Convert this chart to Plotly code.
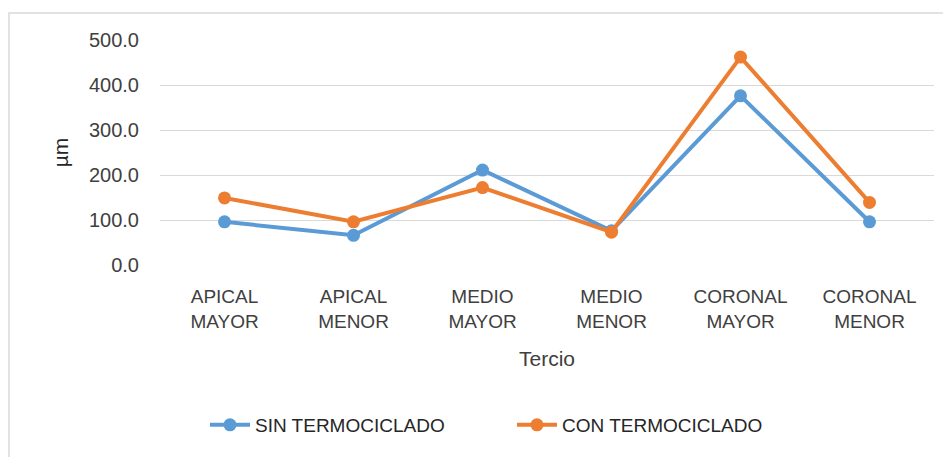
import plotly.graph_objects as go

categories = ["APICAL<br>MAYOR", "APICAL<br>MENOR", "MEDIO<br>MAYOR", "MEDIO<br>MENOR", "CORONAL<br>MAYOR", "CORONAL<br>MENOR"]
sin_termociclado = [96, 66, 211, 76, 376, 96]
con_termociclado = [149, 96, 172, 73, 462, 139]
y_ticks = [0, 100, 200, 300, 400, 500]

# page body has an 8px margin, so the figure is drawn 8px in from the window corner
OFF = 8
W, H = 951 - OFF, 457 - OFF
L, R, T, B = 160 - OFF, 17, 40 - OFF, 192
pw = W - L - R
ph = H - T - B

def px_x(x):
    return (x - OFF - L) / pw

def px_y(y):
    return (H - B - (y - OFF)) / ph

font_family = "Liberation Sans Narrow, Liberation Sans, Arial"
txt_color = "#404040"

fig = go.Figure()
fig.add_trace(go.Scatter(x=categories, y=sin_termociclado, name="SIN TERMOCICLADO",
                         mode="lines+markers",
                         line=dict(color="#5B9BD5", width=4),
                         marker=dict(color="#5B9BD5", size=13)))
fig.add_trace(go.Scatter(x=categories, y=con_termociclado, name="CON TERMOCICLADO",
                         mode="lines+markers",
                         line=dict(color="#ED7D31", width=4),
                         marker=dict(color="#ED7D31", size=13)))

fig.update_layout(
    width=W, height=H,
    margin=dict(l=L, r=R, t=T, b=B, autoexpand=False),
    paper_bgcolor="white", plot_bgcolor="white",
    font=dict(family=font_family, size=19, color=txt_color),
    showlegend=True,
    legend=dict(orientation="h", x=px_x(205), xanchor="left",
                y=px_y(425), yanchor="middle",
                font=dict(size=19, color="#262626"),
                itemwidth=40, entrywidth=252, entrywidthmode="pixels"),
    xaxis=dict(range=[-0.5, 5.5], showgrid=False, showline=False, zeroline=False,
               tickfont=dict(size=19, color=txt_color), ticks="",
               ticklabelstandoff=18,
               title=dict(text="Tercio", font=dict(size=21, color=txt_color), standoff=20)),
    yaxis=dict(range=[0, 500], tickvals=y_ticks, tickformat=".1f",
               gridcolor="#D9D9D9", gridwidth=1, zeroline=False, showline=False,
               tickfont=dict(size=20, color=txt_color), ticks="",
               ticklabelstandoff=20,
               title=dict(text="µm", font=dict(size=21, color="#262626"), standoff=14)),
    shapes=[dict(type="rect", xref="paper", yref="paper",
                 x0=px_x(9), x1=px_x(1000), y0=px_y(520), y1=px_y(13),
                 line=dict(color="#D9D9D9", width=1.5), fillcolor="rgba(0,0,0,0)", layer="below")],
)

fig.write_html("out.html")
